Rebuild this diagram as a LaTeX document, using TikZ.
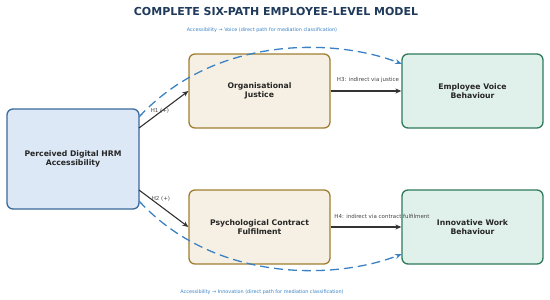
\documentclass[tikz,border=0pt]{standalone}
\usepackage{fontspec}
\setmainfont{DejaVu Sans}
\usetikzlibrary{arrows.meta}
\definecolor{titlec}{HTML}{1F3A5A}
\definecolor{bluefill}{HTML}{DCE8F5}
\definecolor{blueline}{HTML}{3A6A9A}
\definecolor{medfill}{HTML}{F5F0E3}
\definecolor{medline}{HTML}{A07E30}
\definecolor{outfill}{HTML}{E0F0EA}
\definecolor{outline}{HTML}{2E7A5A}
\definecolor{dashc}{HTML}{3A82C4}
\definecolor{arrc}{HTML}{333333}
\definecolor{lblc}{HTML}{444444}
\tikzset{
  boxbase/.style={rounded corners=6pt, line width=1.3pt, align=center, font=\fontsize{7.7}{9.2}\selectfont\bfseries, text=black!85, inner sep=0pt},
  srcbox/.style={boxbase, fill=bluefill, draw=blueline, minimum width=132pt, minimum height=100pt},
  medbox/.style={boxbase, fill=medfill, draw=medline, minimum width=141pt, minimum height=74pt},
  outbox/.style={boxbase, fill=outfill, draw=outline, minimum width=141pt, minimum height=74pt},
  patharrow/.style={draw=arrc, line width=1.1pt, -{Stealth[length=6pt,width=5pt]}},
  dasharrow/.style={draw=dashc, line width=1.3pt, dash pattern=on 9pt off 5pt, -{Stealth[length=7pt,width=5pt]}},
  plabel/.style={font=\fontsize{5.5}{6}\selectfont, text=lblc, inner sep=1pt},
  dlabel/.style={font=\fontsize{4.9}{5.5}\selectfont, text=dashc, inner sep=0pt},
}
\begin{document}
\begin{tikzpicture}[x=1pt,y=-1pt]
\useasboundingbox (0,0) rectangle (550,300);
\node[font=\fontsize{11}{13}\selectfont\bfseries, text=titlec] (title) at (276,11) {COMPLETE SIX-PATH EMPLOYEE-LEVEL MODEL};
\node[dlabel] (toplbl) at (262,30) {Accessibility → Voice (direct path for mediation classification)};
\node[dlabel] (botlbl) at (262,292) {Accessibility → Innovation (direct path for mediation classification)};

\node[srcbox] (src) at (73,159) {Perceived Digital HRM\\Accessibility};
\node[medbox] (oj) at (259.5,91) {Organisational\\Justice};
\node[medbox] (pcf) at (259.5,227) {Psychological Contract\\Fulfilment};
\node[outbox] (evb) at (472.5,91) {Employee Voice\\Behaviour};
\node[outbox] (iwb) at (472.5,227) {Innovative Work\\Behaviour};

\coordinate (s1) at (139,128);
\coordinate (s2) at (139,190);
\coordinate (d1) at (139,117);
\coordinate (d2) at (139,201);
\coordinate (e1) at (402,64);
\coordinate (e2) at (402,254);

\draw[patharrow] (s1) -- (oj.west);
\draw[patharrow] (s2) -- (pcf.west);
\draw[patharrow] (oj.east) -- (evb.west);
\draw[patharrow] (pcf.east) -- (iwb.west);
\node[plabel] (h1) at (160,111) {H1 (+)};
\node[plabel] (h2) at (161,199) {H2 (+)};
\node[plabel] (h3) at (368,80) {H3: indirect via justice};
\node[plabel] (h4) at (382,216) {H4: indirect via contract fulfilment};

\draw[dasharrow] (d1) .. controls (215,35) and (335,38) .. (e1);
\draw[dasharrow] (d2) .. controls (215,283) and (335,280) .. (e2);
\end{tikzpicture}
\end{document}
